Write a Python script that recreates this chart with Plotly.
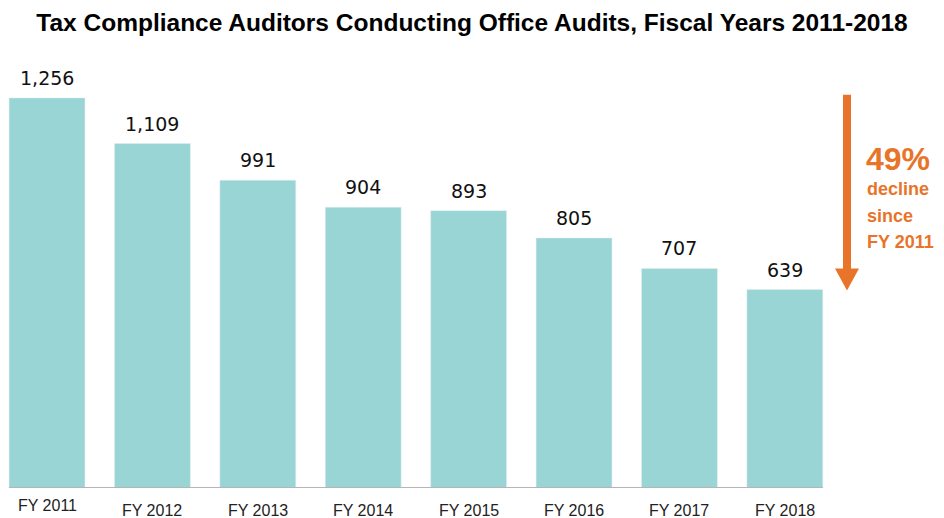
import plotly.graph_objects as go

years = ["FY 2011", "FY 2012", "FY 2013", "FY 2014", "FY 2015", "FY 2016", "FY 2017", "FY 2018"]
auditors = [1256, 1109, 991, 904, 893, 805, 707, 639]
labels = [f"{v:,}" for v in auditors]
note_lines = ["decline", "since", "FY 2011"]

bar_color = "#99D5D4"
orange = "#E8742A"
sans = "Liberation Sans, Arial, sans-serif"

W, H = 944, 518
TOP, BOTTOM = 60, 30          # plot area spans y = 60 .. 488 px


def py(pix):
    # pixel row -> paper y (paper is the plot area)
    return (H - BOTTOM - pix) / (H - TOP - BOTTOM)


fig = go.Figure(go.Bar(
    x=list(range(len(years))),
    y=auditors,
    marker_color=bar_color,
    width=0.72,
    hoverinfo="skip",
))

# value labels above the bars
for i, (v, lab) in enumerate(zip(auditors, labels)):
    fig.add_annotation(x=i, y=v, text=lab, showarrow=False, yshift=20,
                       font=dict(size=19, color="#111", family="DejaVu Sans, sans-serif"))

# x tick labels (first one sits a bit higher in the original)
for i, yr in enumerate(years):
    fig.add_annotation(x=i, y=0, text=yr, showarrow=False,
                       yshift=-17 if i == 0 else -22,
                       font=dict(size=16, color="#222", family=sans))

# baseline
fig.add_shape(type="line", xref="x", yref="y", x0=-0.36, x1=len(years) - 0.64,
              y0=0, y1=0, line=dict(color="#B5B5B5", width=2))

# decline arrow
xa = 847 / W
fig.add_shape(type="line", xref="paper", yref="y", x0=xa, x1=xa,
              y0=auditors[0] + 10, y1=auditors[-1] + 65,
              line=dict(color=orange, width=8))
fig.add_shape(type="path", xref="paper", yref="y",
              path=f"M {xa - 12/W},{auditors[-1] + 68} L {xa + 12/W},{auditors[-1] + 68} "
                   f"L {xa},{auditors[-1] - 3} Z",
              fillcolor=orange, line=dict(width=0))

pct = round((1 - auditors[-1] / auditors[0]) * 100)
fig.add_annotation(xref="paper", yref="paper", x=864 / W, y=py(159),
                   xanchor="left", yanchor="middle",
                   text=f"<b>{pct}%</b>", showarrow=False,
                   font=dict(size=32, color=orange, family=sans))
for k, line in enumerate(note_lines):
    fig.add_annotation(xref="paper", yref="paper", x=865 / W, y=py(189 + 26.5 * k),
                       xanchor="left", yanchor="middle", text=f"<b>{line}</b>", showarrow=False,
                       font=dict(size=18, color=orange, family=sans))

fig.update_layout(
    width=W, height=H,
    margin=dict(l=0, r=0, t=TOP, b=BOTTOM),
    title=dict(text="<b>Tax Compliance Auditors Conducting Office Audits, Fiscal Years 2011-2018</b>",
               x=0.5, xanchor="center", y=1 - 22 / H, yanchor="middle",
               font=dict(size=24.5, color="#000", family=sans)),
    plot_bgcolor="white",
    paper_bgcolor="white",
    showlegend=False,
    bargap=0.28,
)
fig.update_xaxes(range=[-0.446, 8.51], showticklabels=False, showgrid=False, zeroline=False)
fig.update_yaxes(range=[0, 1378], visible=False)

fig.write_html("out.html", config={"displayModeBar": False},
               post_script="document.body.style.margin='0';")
